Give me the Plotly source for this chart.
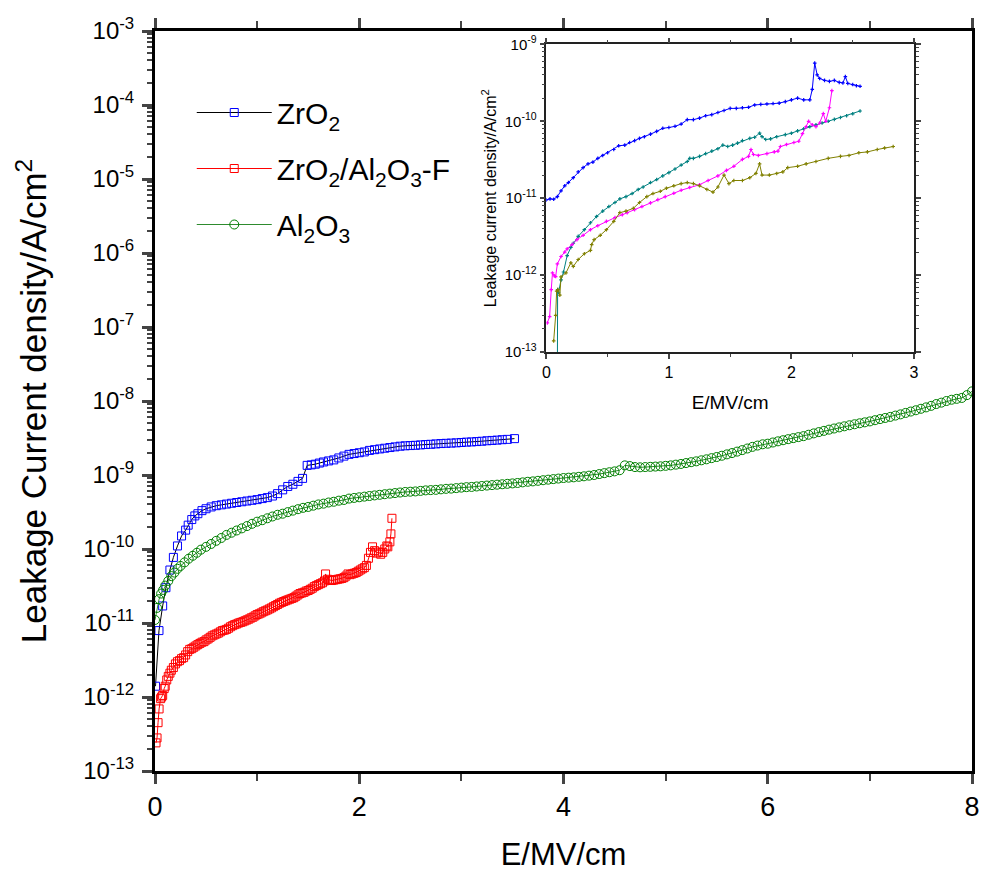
import plotly.graph_objects as go

# ---------------- main plot data ----------------
zro2_E = [0.005, 0.039, 0.075, 0.107, 0.146, 0.18, 0.22, 0.26, 0.30, 0.325, 0.36, 0.39, 0.42, 0.46, 0.50,
          0.55, 0.60, 0.65, 0.70, 0.75, 0.80, 0.85, 0.90, 0.95, 1.00, 1.05, 1.10, 1.15, 1.20, 1.25, 1.30,
          1.35, 1.40, 1.445, 1.49, 1.53, 1.57, 1.61, 1.65, 1.70, 1.75, 1.80, 1.85, 1.90, 1.95, 2.00, 2.05,
          2.10, 2.15, 2.20, 2.25, 2.30, 2.35, 2.40, 2.45, 2.50, 2.55, 2.60, 2.65, 2.70, 2.75, 2.80, 2.85,
          2.90, 2.95, 3.00, 3.05, 3.10, 3.15, 3.20, 3.25, 3.30, 3.35, 3.40, 3.45, 3.52]
zro2_J = [1.4e-12, 7.9e-12, 1.7e-11, 3.0e-11, 5.2e-11, 7.7e-11, 1.1e-10, 1.5e-10, 1.8e-10, 2.1e-10, 2.5e-10,
          2.8e-10, 3.0e-10, 3.3e-10, 3.5e-10, 3.7e-10, 3.85e-10, 3.95e-10, 4.05e-10, 4.15e-10, 4.25e-10,
          4.35e-10, 4.45e-10, 4.55e-10, 4.65e-10, 4.8e-10, 4.95e-10, 5.2e-10, 5.6e-10, 6.3e-10, 7.0e-10,
          7.5e-10, 8.2e-10, 9.0e-10, 1.35e-9, 1.37e-9, 1.4e-9, 1.45e-9, 1.5e-9, 1.55e-9, 1.6e-9, 1.7e-9,
          1.8e-9, 1.9e-9, 1.95e-9, 2.0e-9, 2.05e-9, 2.15e-9, 2.2e-9, 2.25e-9, 2.3e-9, 2.35e-9, 2.4e-9,
          2.45e-9, 2.48e-9, 2.5e-9, 2.52e-9, 2.55e-9, 2.58e-9, 2.6e-9, 2.63e-9, 2.66e-9, 2.68e-9, 2.7e-9,
          2.72e-9, 2.75e-9, 2.78e-9, 2.8e-9, 2.83e-9, 2.86e-9, 2.9e-9, 2.93e-9, 2.96e-9, 3.0e-9, 3.03e-9,
          3.1e-9]

zal_E = [0.010, 0.020, 0.030, 0.040, 0.055, 0.065, 0.075, 0.090, 0.100, 0.115, 0.130, 0.146, 0.16, 0.18,
         0.20, 0.22, 0.24, 0.26, 0.28, 0.30, 0.32, 0.34, 0.36, 0.38, 0.40, 0.42, 0.44, 0.46, 0.48, 0.50,
         0.52, 0.54, 0.56, 0.58, 0.60, 0.62, 0.64, 0.66, 0.68, 0.70, 0.72, 0.74, 0.76, 0.78, 0.80, 0.82,
         0.84, 0.86, 0.88, 0.90, 0.92, 0.94, 0.96, 0.98, 1.00, 1.02, 1.04, 1.06, 1.08, 1.10, 1.12, 1.14,
         1.16, 1.18, 1.20, 1.22, 1.24, 1.26, 1.28, 1.30, 1.32, 1.34, 1.36, 1.38, 1.40, 1.42, 1.44, 1.46,
         1.48, 1.50, 1.52, 1.54, 1.56, 1.58, 1.60, 1.62, 1.64, 1.66, 1.67, 1.69, 1.71, 1.73, 1.75, 1.77,
         1.79, 1.81, 1.83, 1.85, 1.87, 1.89, 1.91, 1.93, 1.95, 1.97, 1.99, 2.01, 2.03, 2.05, 2.07, 2.09,
         2.11, 2.13, 2.15, 2.17, 2.19, 2.21, 2.23, 2.25, 2.27, 2.28, 2.30, 2.31, 2.32]
zal_J = [2.4e-13, 2.8e-13, 4.5e-13, 6.9e-13, 9.5e-13, 1.0e-12, 1.05e-12, 1.3e-12, 1.4e-12, 1.7e-12, 1.9e-12,
         2.1e-12, 2.3e-12, 2.5e-12, 2.8e-12, 3.0e-12, 3.1e-12, 3.3e-12, 3.4e-12, 3.7e-12, 4.1e-12, 4.4e-12,
         4.5e-12, 4.7e-12, 4.9e-12, 5.1e-12, 5.3e-12, 5.5e-12, 5.6e-12, 5.9e-12, 6.1e-12, 6.4e-12, 6.7e-12,
         6.9e-12, 7.1e-12, 7.3e-12, 7.6e-12, 7.9e-12, 8.0e-12, 8.2e-12, 8.5e-12, 8.9e-12, 9.2e-12, 9.5e-12,
         9.7e-12, 1.0e-11, 1.02e-11, 1.04e-11, 1.07e-11, 1.1e-11, 1.13e-11, 1.17e-11, 1.2e-11, 1.25e-11,
         1.3e-11, 1.33e-11, 1.37e-11, 1.42e-11, 1.46e-11, 1.5e-11, 1.55e-11, 1.6e-11, 1.66e-11, 1.72e-11,
         1.78e-11, 1.85e-11, 1.9e-11, 1.95e-11, 2.0e-11, 2.05e-11, 2.1e-11, 2.15e-11, 2.2e-11, 2.3e-11,
         2.4e-11, 2.5e-11, 2.55e-11, 2.6e-11, 2.7e-11, 2.75e-11, 2.85e-11, 2.95e-11, 3.1e-11, 3.2e-11,
         3.3e-11, 3.4e-11, 3.5e-11, 3.7e-11, 4.6e-11, 3.9e-11, 3.8e-11, 3.75e-11, 3.8e-11, 3.85e-11,
         3.9e-11, 3.95e-11, 4.0e-11, 4.1e-11, 4.3e-11, 4.6e-11, 4.5e-11, 4.6e-11, 4.7e-11, 4.8e-11,
         5.0e-11, 5.2e-11, 5.4e-11, 5.6e-11, 6.0e-11, 7.5e-11, 9.0e-11, 1.07e-10, 9.5e-11, 8.8e-11,
         9.1e-11, 8.5e-11, 9.0e-11, 1.0e-10, 1.1e-10, 1.07e-10, 1.25e-10, 1.6e-10, 2.6e-10]

al2o3_E = [0.00, 0.02, 0.04, 0.06, 0.08, 0.10, 0.13, 0.16, 0.19, 0.22, 0.25, 0.29, 0.33, 0.37, 0.41, 0.45,
           0.50, 0.55, 0.60, 0.65, 0.70, 0.75, 0.80, 0.85, 0.90, 0.95, 1.00, 1.05, 1.10, 1.15, 1.20, 1.25,
           1.30, 1.35, 1.40, 1.45, 1.50, 1.55, 1.60, 1.65, 1.70, 1.75, 1.80, 1.85, 1.90, 1.95, 2.00, 2.05,
           2.10, 2.15, 2.20, 2.25, 2.30, 2.35, 2.40, 2.45, 2.50, 2.55, 2.60, 2.65, 2.70, 2.75, 2.80, 2.85,
           2.90, 2.95, 3.00, 3.05, 3.10, 3.15, 3.20, 3.25, 3.30, 3.35, 3.40, 3.45, 3.50, 3.55, 3.60, 3.65,
           3.70, 3.75, 3.80, 3.85, 3.90, 3.95, 4.00, 4.05, 4.10, 4.15, 4.20, 4.25, 4.30, 4.35, 4.40, 4.45,
           4.50, 4.55, 4.60, 4.65, 4.70, 4.75, 4.80, 4.85, 4.90, 4.95, 5.00, 5.05, 5.10, 5.15, 5.20, 5.25,
           5.30, 5.35, 5.40, 5.45, 5.50, 5.55, 5.60, 5.65, 5.70, 5.75, 5.80, 5.85, 5.90, 5.95, 6.00, 6.05,
           6.10, 6.15, 6.20, 6.25, 6.30, 6.35, 6.40, 6.45, 6.50, 6.55, 6.60, 6.65, 6.70, 6.75, 6.80, 6.85,
           6.90, 6.95, 7.00, 7.05, 7.10, 7.15, 7.20, 7.25, 7.30, 7.35, 7.40, 7.45, 7.50, 7.55, 7.60, 7.65,
           7.70, 7.75, 7.80, 7.85, 7.90, 7.95, 8.00]
al2o3_J = [1.1e-11, 1.6e-11, 2.1e-11, 2.5e-11, 2.8e-11, 3.2e-11, 3.7e-11, 4.3e-11, 4.8e-11, 5.4e-11, 5.9e-11,
           6.6e-11, 7.4e-11, 8.1e-11, 8.9e-11, 9.8e-11, 1.07e-10, 1.17e-10, 1.29e-10, 1.41e-10, 1.55e-10,
           1.66e-10, 1.78e-10, 1.9e-10, 2.04e-10, 2.19e-10, 2.34e-10, 2.45e-10, 2.6e-10, 2.75e-10, 2.9e-10,
           3.0e-10, 3.15e-10, 3.3e-10, 3.45e-10, 3.6e-10, 3.7e-10, 3.85e-10, 4.0e-10, 4.1e-10, 4.25e-10,
           4.35e-10, 4.5e-10, 4.6e-10, 4.8e-10, 4.9e-10, 5.0e-10, 5.1e-10, 5.2e-10, 5.3e-10, 5.4e-10,
           5.5e-10, 5.6e-10, 5.7e-10, 5.8e-10, 5.9e-10, 5.95e-10, 6.0e-10, 6.1e-10, 6.2e-10, 6.25e-10,
           6.3e-10, 6.4e-10, 6.5e-10, 6.55e-10, 6.65e-10, 6.75e-10, 6.85e-10, 6.9e-10, 7.0e-10, 7.1e-10,
           7.2e-10, 7.3e-10, 7.4e-10, 7.5e-10, 7.6e-10, 7.7e-10, 7.8e-10, 7.95e-10, 8.1e-10, 8.2e-10,
           8.35e-10, 8.5e-10, 8.65e-10, 8.8e-10, 8.95e-10, 9.1e-10, 9.2e-10, 9.3e-10, 9.45e-10, 9.6e-10,
           9.8e-10, 1.0e-9, 1.03e-9, 1.06e-9, 1.09e-9, 1.12e-9, 1.16e-9, 1.35e-9, 1.32e-9, 1.28e-9,
           1.27e-9, 1.28e-9, 1.29e-9, 1.3e-9, 1.31e-9, 1.33e-9, 1.35e-9, 1.38e-9, 1.41e-9, 1.45e-9,
           1.49e-9, 1.53e-9, 1.58e-9, 1.63e-9, 1.69e-9, 1.75e-9, 1.82e-9, 1.9e-9, 1.98e-9, 2.07e-9,
           2.17e-9, 2.28e-9, 2.4e-9, 2.5e-9, 2.6e-9, 2.65e-9, 2.75e-9, 2.85e-9, 2.95e-9, 3.05e-9, 3.15e-9,
           3.25e-9, 3.35e-9, 3.5e-9, 3.65e-9, 3.8e-9, 3.95e-9, 4.1e-9, 4.25e-9, 4.4e-9, 4.55e-9, 4.7e-9,
           4.85e-9, 5.0e-9, 5.15e-9, 5.3e-9, 5.5e-9, 5.7e-9, 5.9e-9, 6.1e-9, 6.35e-9, 6.6e-9, 6.9e-9,
           7.2e-9, 7.5e-9, 7.85e-9, 8.2e-9, 8.6e-9, 9.1e-9, 9.5e-9, 1.0e-8, 1.04e-8, 1.07e-8, 1.1e-8,
           1.2e-8, 1.35e-8, 1.55e-8]

# ---------------- inset data ----------------
in_blue_E = [0.0, 0.03, 0.06, 0.09, 0.12, 0.15, 0.18, 0.22, 0.26, 0.30, 0.34, 0.38, 0.42, 0.46, 0.50, 0.55,
             0.59, 0.64, 0.68, 0.72, 0.76, 0.80, 0.85, 0.90, 0.95, 1.00, 1.05, 1.10, 1.15, 1.20, 1.25, 1.30,
             1.35, 1.40, 1.45, 1.50, 1.55, 1.60, 1.65, 1.70, 1.75, 1.80, 1.85, 1.90, 1.95, 2.00, 2.05, 2.10,
             2.15, 2.17, 2.19, 2.21, 2.23, 2.27, 2.31, 2.35, 2.39, 2.42, 2.44, 2.46, 2.50, 2.53, 2.56]
in_blue_J = [9.5e-12, 9.8e-12, 9.7e-12, 1.05e-11, 1.25e-11, 1.45e-11, 1.6e-11, 1.85e-11, 2.2e-11, 2.5e-11,
             2.8e-11, 2.95e-11, 3.3e-11, 3.6e-11, 3.9e-11, 4.3e-11, 4.8e-11, 4.9e-11, 5.3e-11, 5.6e-11,
             6.0e-11, 6.3e-11, 6.8e-11, 7.4e-11, 8.1e-11, 8.3e-11, 8.6e-11, 9.2e-11, 1.05e-10, 1.05e-10,
             1.1e-10, 1.18e-10, 1.22e-10, 1.3e-10, 1.38e-10, 1.47e-10, 1.47e-10, 1.5e-10, 1.52e-10, 1.63e-10,
             1.66e-10, 1.68e-10, 1.7e-10, 1.72e-10, 1.8e-10, 1.9e-10, 2.0e-10, 1.9e-10, 1.9e-10, 2.6e-10,
             5.7e-10, 4.0e-10, 3.6e-10, 3.4e-10, 3.3e-10, 3.4e-10, 3.2e-10, 3.15e-10, 3.8e-10, 3.1e-10,
             3.0e-10, 2.9e-10, 2.85e-10]

in_teal_E = [0.090, 0.092, 0.10, 0.12, 0.14, 0.17, 0.20, 0.22, 0.26, 0.31, 0.36, 0.41, 0.46, 0.51, 0.56,
             0.60, 0.65, 0.70, 0.75, 0.79, 0.85, 0.90, 0.95, 1.00, 1.05, 1.10, 1.15, 1.17, 1.20, 1.25, 1.30,
             1.35, 1.40, 1.44, 1.48, 1.52, 1.56, 1.60, 1.66, 1.70, 1.74, 1.76, 1.79, 1.83, 1.88, 1.95, 2.00,
             2.05, 2.10, 2.15, 2.20, 2.25, 2.30, 2.35, 2.40, 2.45, 2.50, 2.56]
in_teal_J = [5e-14, 6.5e-13, 6.0e-13, 8.7e-13, 1.1e-12, 1.8e-12, 2.3e-12, 2.6e-12, 3.2e-12, 3.9e-12, 4.8e-12,
             5.8e-12, 6.8e-12, 7.8e-12, 8.8e-12, 9.8e-12, 1.05e-11, 1.15e-11, 1.3e-11, 1.4e-11, 1.6e-11,
             1.75e-11, 1.95e-11, 2.15e-11, 2.4e-11, 2.7e-11, 3.0e-11, 3.3e-11, 3.3e-11, 3.5e-11, 3.8e-11,
             4.1e-11, 4.4e-11, 4.9e-11, 4.7e-11, 4.9e-11, 5.2e-11, 5.6e-11, 6.0e-11, 6.2e-11, 7.0e-11,
             6.3e-11, 5.8e-11, 5.9e-11, 6.3e-11, 6.7e-11, 7.0e-11, 7.5e-11, 8.0e-11, 8.5e-11, 9.0e-11,
             9.5e-11, 1.0e-10, 1.06e-10, 1.12e-10, 1.18e-10, 1.25e-10, 1.36e-10]

in_mag_E = [0.008, 0.027, 0.04, 0.05, 0.065, 0.076, 0.09, 0.12, 0.15, 0.17, 0.21, 0.25, 0.30, 0.36, 0.42,
            0.49, 0.56, 0.62, 0.66, 0.72, 0.78, 0.85, 0.91, 0.97, 1.04, 1.10, 1.17, 1.25, 1.32, 1.40, 1.47,
            1.53, 1.60, 1.65, 1.67, 1.69, 1.73, 1.80, 1.86, 1.89, 1.91, 1.96, 2.02, 2.06, 2.09, 2.12, 2.14,
            2.17, 2.20, 2.23, 2.26, 2.28, 2.31, 2.33]
in_mag_J = [2.4e-13, 2.9e-13, 6.5e-13, 1.07e-12, 9.8e-13, 9.6e-13, 1.4e-12, 1.75e-12, 2.0e-12, 2.2e-12,
            2.5e-12, 2.9e-12, 3.3e-12, 3.9e-12, 4.4e-12, 5.0e-12, 5.6e-12, 6.1e-12, 6.5e-12, 7.1e-12,
            7.8e-12, 8.7e-12, 9.6e-12, 1.05e-11, 1.16e-11, 1.27e-11, 1.38e-11, 1.5e-11, 1.7e-11, 1.95e-11,
            2.3e-11, 2.6e-11, 3.2e-11, 3.5e-11, 4.3e-11, 3.7e-11, 3.6e-11, 3.8e-11, 4.0e-11, 4.1e-11,
            4.7e-11, 5.0e-11, 5.3e-11, 5.5e-11, 6.9e-11, 8.5e-11, 1.0e-10, 9.0e-11, 8.5e-11, 9.5e-11,
            1.26e-10, 1.0e-10, 1.5e-10, 2.5e-10]

in_olive_E = [0.06, 0.076, 0.084, 0.095, 0.11, 0.12, 0.16, 0.20, 0.22, 0.26, 0.31, 0.36, 0.37, 0.39, 0.44,
              0.49, 0.55, 0.60, 0.65, 0.71, 0.76, 0.82, 0.87, 0.93, 0.98, 1.04, 1.10, 1.15, 1.20, 1.25, 1.31,
              1.36, 1.40, 1.45, 1.49, 1.53, 1.60, 1.66, 1.71, 1.74, 1.76, 1.82, 1.88, 1.93, 1.97, 2.05, 2.12,
              2.20, 2.30, 2.40, 2.47, 2.55, 2.62, 2.70, 2.76, 2.83]
in_olive_J = [1.4e-13, 3.0e-13, 6.2e-13, 6.5e-13, 5.5e-13, 9.5e-13, 1.07e-12, 1.45e-12, 1.3e-12, 1.6e-12,
              1.9e-12, 2.1e-12, 2.5e-12, 2.9e-12, 3.3e-12, 3.9e-12, 5.0e-12, 6.5e-12, 6.8e-12, 7.4e-12,
              8.8e-12, 1.05e-11, 1.15e-11, 1.23e-11, 1.35e-11, 1.45e-11, 1.55e-11, 1.6e-11, 1.55e-11,
              1.45e-11, 1.3e-11, 1.2e-11, 1.4e-11, 2.0e-11, 1.55e-11, 1.7e-11, 1.7e-11, 1.85e-11, 2.1e-11,
              2.8e-11, 2.0e-11, 2.0e-11, 2.1e-11, 2.2e-11, 2.5e-11, 2.6e-11, 2.8e-11, 3.0e-11, 3.3e-11,
              3.5e-11, 3.6e-11, 3.9e-11, 4.0e-11, 4.3e-11, 4.5e-11, 4.7e-11]

# ---------------- tick labels ----------------
main_y_tickvals = [1e-13, 1e-12, 1e-11, 1e-10, 1e-9, 1e-8, 1e-7, 1e-6, 1e-5, 1e-4, 1e-3]
main_y_ticktext = ["10<sup>-13</sup>", "10<sup>-12</sup>", "10<sup>-11</sup>", "10<sup>-10</sup>",
                   "10<sup>-9</sup>", "10<sup>-8</sup>", "10<sup>-7</sup>", "10<sup>-6</sup>",
                   "10<sup>-5</sup>", "10<sup>-4</sup>", "10<sup>-3</sup>"]
inset_y_tickvals = [1e-13, 1e-12, 1e-11, 1e-10, 1e-9]
inset_y_ticktext = ["10<sup>-13</sup>", "10<sup>-12</sup>", "10<sup>-11</sup>", "10<sup>-10</sup>",
                    "10<sup>-9</sup>"]

FONT = "Liberation Sans, Arial, sans-serif"

fig = go.Figure()

fig.add_trace(go.Scatter(
    x=zro2_E, y=zro2_J, mode="lines+markers", name="ZrO<sub>2</sub>", legendgroup="a",
    line=dict(color="black", width=1),
    marker=dict(symbol="square-open", size=8, color="#0000ff", line=dict(width=1))))
fig.add_trace(go.Scatter(
    x=zal_E, y=zal_J, mode="lines+markers", name="ZrO<sub>2</sub>/Al<sub>2</sub>O<sub>3</sub>-F",
    legendgroup="b", line=dict(color="#ff0000", width=1),
    marker=dict(symbol="square-open", size=8, color="#ff0000", line=dict(width=1))))
fig.add_trace(go.Scatter(
    x=al2o3_E, y=al2o3_J, mode="lines+markers", name="Al<sub>2</sub>O<sub>3</sub>", legendgroup="c",
    line=dict(color="#2e8b2e", width=1),
    marker=dict(symbol="circle-open", size=9, color="#008000", line=dict(width=1))))

inset = [(in_blue_E, in_blue_J, "#0000ff"), (in_teal_E, in_teal_J, "#008080"),
         (in_mag_E, in_mag_J, "#ff00ff"), (in_olive_E, in_olive_J, "#808000")]
for ex, jy, col in inset:
    fig.add_trace(go.Scatter(
        x=ex, y=jy, mode="lines+markers", xaxis="x2", yaxis="y2", showlegend=False,
        line=dict(color=col, width=1), marker=dict(symbol="cross", size=3, color=col)))

fig.update_layout(
    width=984, height=885,
    margin=dict(l=155, r=7, t=31, b=114),
    paper_bgcolor="white", plot_bgcolor="white",
    font=dict(family=FONT, color="black"),
    showlegend=True,
    legend=dict(x=0.045, y=0.925, xanchor="left", yanchor="top", font=dict(size=30, family=FONT),
                tracegroupgap=14, itemwidth=75, bgcolor="rgba(0,0,0,0)"),
    xaxis=dict(domain=[0, 1], range=[0, 8], dtick=2, tick0=0, ticks="outside", ticklen=10, tickwidth=2.5,
               showline=True, linewidth=3, linecolor="black", mirror="ticks", showgrid=False, zeroline=False,
               tickfont=dict(size=27),
               minor=dict(dtick=1, ticks="outside", ticklen=7, tickwidth=2),
               title=dict(text="E/MV/cm", font=dict(size=31), standoff=22), automargin=False),
    yaxis=dict(domain=[0, 1], type="log", range=[-13, -3], tickmode="array",
               tickvals=main_y_tickvals, ticktext=main_y_ticktext,
               ticks="outside", ticklen=10, tickwidth=2.5, showline=True, linewidth=3, linecolor="black",
               mirror=True, showgrid=False, zeroline=False, tickfont=dict(size=24),
               ticklabelstandoff=3,
               minor=dict(dtick="D1", ticks="outside", ticklen=5, tickwidth=1.5, showgrid=False),
               title=dict(text="Leakage Current density/A/cm<sup>2</sup>", font=dict(size=35), standoff=26),
               automargin=False),
    xaxis2=dict(domain=[0.479, 0.929], anchor="y2", range=[0, 3], dtick=1, ticks="outside", ticklen=5,
                tickwidth=1.5, showline=True, linewidth=1.5, linecolor="#222", mirror="ticks",
                showgrid=False, zeroline=False, tickfont=dict(size=16),
                minor=dict(dtick=0.5, ticks="outside", ticklen=3, tickwidth=1),
                title=dict(text="E/MV/cm", font=dict(size=19), standoff=16)),
    yaxis2=dict(domain=[0.566, 0.982], anchor="x2", type="log", range=[-13, -9], tickmode="array",
                tickvals=inset_y_tickvals, ticktext=inset_y_ticktext,
                ticks="outside", ticklen=5, tickwidth=1.5, showline=True,
                linewidth=1.5, linecolor="#222", mirror="ticks", showgrid=False, zeroline=False,
                tickfont=dict(size=15),
                minor=dict(dtick="D1", ticks="outside", ticklen=3, tickwidth=1, showgrid=False),
                title=dict(text="Leakage current density/A/cm<sup>2</sup>", font=dict(size=16), standoff=4)),
)

fig.write_html("out.html")
